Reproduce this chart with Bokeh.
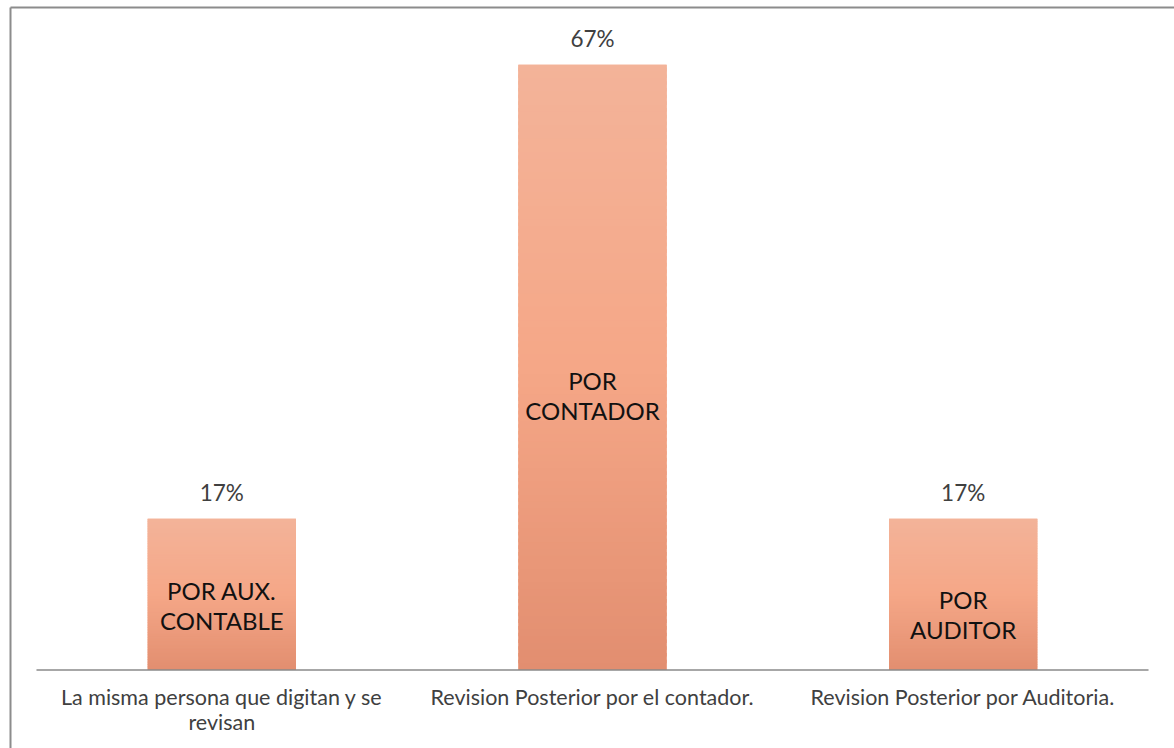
import numpy as np
from bokeh.plotting import figure
from bokeh.models import ColumnDataSource, FactorRange, Range1d, FixedTicker
from bokeh.core.properties import value
from bokeh.embed import file_html
from bokeh.resources import INLINE

# --- data -------------------------------------------------------------
categories = [
    "La misma persona que digitan y se revisan",
    "Revision Posterior por el contador.",
    "Revision Posterior por Auditoria.",
]
shares = [100 / 6, 400 / 6, 100 / 6]          # percent of answers
inner_labels = ["POR AUX.\nCONTABLE", "POR\nCONTADOR", "POR\nAUDITOR"]
tick_labels = [
    "La misma persona que digitan y se\nrevisan",
    "Revision Posterior por el contador.",
    "Revision Posterior por Auditoria.",
]

# --- styling ----------------------------------------------------------
FONT = "Lato"
BAR_WIDTH = 0.4
inner_label_shift_px = [11, 28, 20]   # nudge of each inner label below bar middle
grad_bottom = np.array([226, 142, 112])
grad_mid = np.array([245, 167, 135])
grad_top = np.array([243, 179, 153])
N_SLICES = 90
FRAME_COLOR = "#8c8c8c"

def grad_color(t):
    if t < 0.5:
        c = grad_bottom + (grad_mid - grad_bottom) * (t / 0.5)
    else:
        c = grad_mid + (grad_top - grad_mid) * ((t - 0.5) / 0.5)
    r, g, b = (int(round(v)) for v in c)
    return f"#{r:02x}{g:02x}{b:02x}"

# the plotting frame fills the chart area; its top and left edges are the
# chart border, the category axis sits inside at y = 0
p = figure(
    width=1174, height=748,
    x_range=FactorRange(factors=categories, range_padding=0.0701,
                        range_padding_units="absolute"),
    y_range=Range1d(-8.645, 72.96),
    x_axis_location="above",
    output_backend="svg", toolbar_location=None,
    min_border_left=10, min_border_right=0,
    min_border_top=7, min_border_bottom=0,
)
p.background_fill_color = "white"
p.border_fill_color = "white"
p.outline_line_color = None
p.xgrid.grid_line_color = None
p.ygrid.grid_line_color = None

for ax in (p.xaxis[0], p.yaxis[0]):
    ax.ticker = FixedTicker(ticks=[])
    ax.major_tick_line_color = None
    ax.minor_tick_line_color = None
    ax.major_label_text_font_size = "0px"
    ax.major_label_standoff = 0
    ax.axis_line_color = FRAME_COLOR
    ax.axis_line_width = 2

# solid base bars, then gradient slices stacked on top of them
p.vbar(x=categories, top=shares, width=BAR_WIDTH,
       fill_color=grad_color(0.5), line_color=None)

xs, bottoms, tops, colors = [], [], [], []
for cat, v in zip(categories, shares):
    edges = np.linspace(0, v, N_SLICES + 1)
    for k in range(N_SLICES):
        t = (k + 0.5) / N_SLICES
        xs.append(cat)
        bottoms.append(edges[k])
        tops.append(min(edges[k + 1] + v * 0.006, v))
        colors.append(grad_color(t))
bars = ColumnDataSource(dict(x=xs, bottom=bottoms, top=tops, color=colors))
p.vbar(x="x", width=BAR_WIDTH, bottom="bottom", top="top", source=bars,
       fill_color="color", line_color=None)

# category axis line across the three categories
p.rect(x=[categories[1]], y=[0], width=len(categories), height=1.6,
       height_units="screen", fill_color="#8a8a8a", line_color=None)

# category names under the axis
cat_src = ColumnDataSource(dict(x=categories, y=[0] * len(categories),
                                text=tick_labels))
p.text(x="x", y="y", text="text", source=cat_src, y_offset=14,
       text_font=value(FONT), text_font_size="21.5px", text_color="#404040",
       text_align="center", text_baseline="top", text_line_height=0.95)

# value labels above each bar
val_src = ColumnDataSource(dict(x=categories, y=shares,
                                text=[f"{round(v)}%" for v in shares]))
p.text(x="x", y="y", text="text", source=val_src,
       text_font=value(FONT), text_font_size="22.5px", text_color="#404040",
       text_align="center", text_baseline="bottom", y_offset=-13)

# category names written inside the bars
in_src = ColumnDataSource(dict(x=categories, y=[v / 2 for v in shares],
                               text=inner_labels, dy=inner_label_shift_px))
p.text(x="x", y="y", text="text", y_offset="dy", source=in_src,
       text_font=value(FONT), text_font_size="24px", text_color="#111111",
       text_align="center", text_baseline="middle", text_line_height=1.05)

open("out.html", "w").write(file_html(p, INLINE))
